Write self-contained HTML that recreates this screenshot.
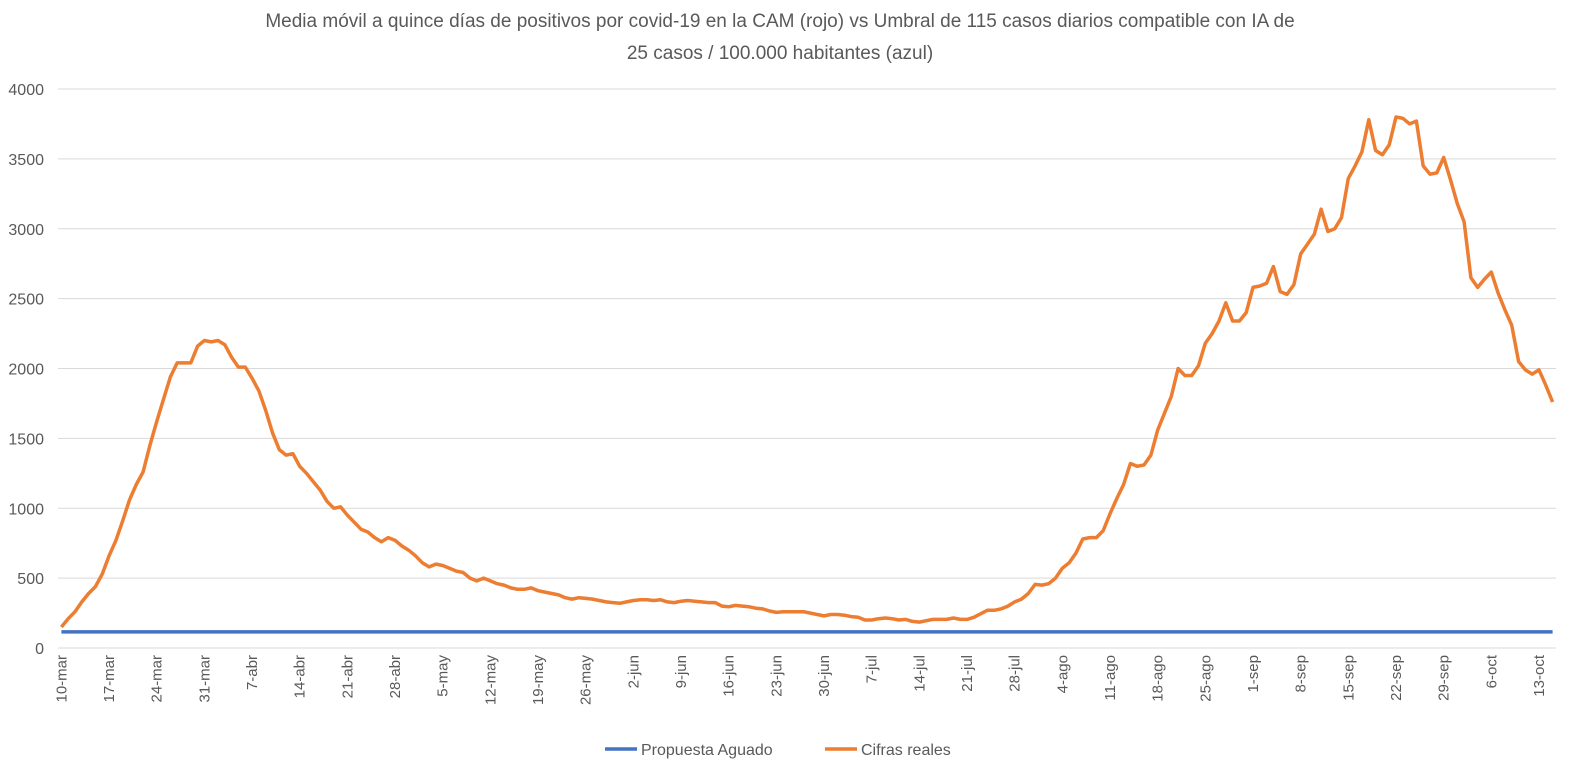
<!DOCTYPE html>
<html><head><meta charset="utf-8"><style>
body{margin:0;background:#fff;}
svg{display:block;font-family:"Liberation Sans",sans-serif;}
</style></head><body>
<svg id="chart" width="1586" height="773" viewBox="0 0 1586 773">
<text x="780" y="27" text-anchor="middle" font-size="19" fill="#595959">Media móvil a quince días de positivos por covid-19 en la CAM (rojo) vs Umbral de 115 casos diarios compatible con IA de</text>
<text x="780" y="59" text-anchor="middle" font-size="19" fill="#595959">25 casos / 100.000 habitantes (azul)</text>
<g id="grid"></g>
<g id="yaxis"></g>
<g id="xaxis"></g>
<g id="series"></g>
<g>
<line x1="605" y1="749" x2="637" y2="749" stroke="#4472C4" stroke-width="3.5"/>
<text x="641" y="755" font-size="16" fill="#595959">Propuesta Aguado</text>
<line x1="825" y1="749" x2="857" y2="749" stroke="#ED7D31" stroke-width="3.5"/>
<text x="861" y="755" font-size="16" fill="#595959">Cifras reales</text>
</g>
</svg>
<script>
const yTicks=[0,500,1000,1500,2000,2500,3000,3500,4000];
const xLabels=["10-mar","17-mar","24-mar","31-mar","7-abr","14-abr","21-abr","28-abr","5-may","12-may","19-may","26-may","2-jun","9-jun","16-jun","23-jun","30-jun","7-jul","14-jul","21-jul","28-jul","4-ago","11-ago","18-ago","25-ago","1-sep","8-sep","15-sep","22-sep","29-sep","6-oct","13-oct"];
const umbral=115;
const cifras=[150,210,260,330,390,440,530,660,770,910,1060,1170,1260,1450,1620,1780,1940,2040,2040,2040,
2160,2200,2190,2200,2170,2080,2010,2010,1930,1840,1700,1540,1420,1380,1390,
1300,1250,1190,1130,1050,1000,1010,950,900,850,830,790,760,790,770,730,700,660,610,580,600,590,570,550,540,500,480,500,480,460,450,430,420,420,430,410,400,390,380,360,350,360,
355,350,340,330,325,320,
330,340,345,345,340,345,330,325,335,340,335,330,325,325,300,295,305,300,295,285,280,265,255,260,260,260,260,250,240,230,
240,240,235,225,220,200,200,210,215,210,200,205,190,185,195,205,205,205,215,205,205,220,245,270,270,280,300,330,350,390,455,
450,460,500,570,610,680,780,790,790,840,960,1070,1170,1320,1300,1310,1380,1560,1680,1800,2000,1950,1950,2020,2180,2250,2340,2470,2340,2340,2400,
2580,2590,2610,2730,2550,2530,2600,2820,2890,2960,3140,2980,3000,3080,3360,3450,3550,3780,3560,3530,3600,3800,3790,3750,3770,3450,3390,3400,3510,3350,
3180,3050,2650,2580,2640,2690,2540,2420,2310,2050,1990,1960,1990,1880,1760];
const NS="http://www.w3.org/2000/svg";
const x0=58,x1=1556,y0=648,yTop=89,yMax=4000,n=cifras.length;
const step=(x1-x0)/n;
function X(i){return x0+(i+0.5)*step;}
function Y(v){return y0-(v/yMax)*(y0-yTop);}
function mk(tag,attrs,parent){const e=document.createElementNS(NS,tag);for(const k in attrs)e.setAttribute(k,attrs[k]);parent.appendChild(e);return e;}
const grid=document.getElementById('grid'),ya=document.getElementById('yaxis'),xa=document.getElementById('xaxis'),se=document.getElementById('series');
yTicks.forEach(t=>{
 const l=mk('line',{x1:x0,x2:x1,y1:Y(t),y2:Y(t),stroke:'#d9d9d9','stroke-width':1},grid);
 
 
 const tx=mk('text',{x:44,y:Y(t)+6,'text-anchor':'end','font-size':16,fill:'#595959'},ya);
 tx.textContent=t;
 
 
});
xLabels.forEach((s,k)=>{
 const x=X(k*7);
 const tx=mk('text',{x:0,y:0,transform:`translate(${x+5},655) rotate(-90)`,'text-anchor':'end','font-size':15,fill:'#595959'},xa);
 tx.textContent=s;
 
 
});
const bl=mk('line',{x1:X(0),x2:X(n-1),y1:Y(umbral),y2:Y(umbral),stroke:'#4472C4','stroke-width':3.5},se);


const pts=cifras.map((v,i)=>X(i).toFixed(1)+','+Y(v).toFixed(1)).join(' ');
const pl=mk('polyline',{points:pts,fill:'none',stroke:'#ED7D31','stroke-width':3.5,'stroke-linejoin':'round'},se);


</script>
</body></html>
